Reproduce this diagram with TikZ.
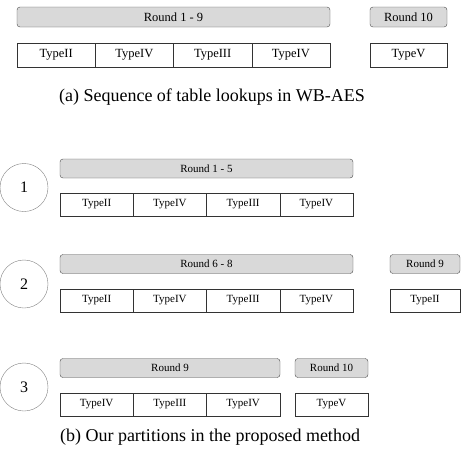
\documentclass[tikz,border=0pt]{standalone}
\usepackage{fontspec}
\setmainfont{Liberation Serif}
\tikzset{
  rnd/.style={draw=black!70, fill=black!15, rounded corners=3pt, minimum height=19pt, inner sep=0pt},
  tbl/.style={draw=black!80, fill=white, minimum height=23pt, inner sep=0pt},
  part/.style={draw=black!50, circle, minimum size=48pt, inner sep=0pt, font=\fontsize{16}{18}\selectfont},
}
\begin{document}
\begin{tikzpicture}[x=1pt,y=-1pt]
    \useasboundingbox (0,0) rectangle (462,461);
    % (a)
    \begin{scope}[font=\fontsize{12.5}{14}\selectfont]
    \node[rnd, minimum width=313pt, minimum height=20pt] (a1) at (173.5,17) {Round 1 - 9};
    \node[rnd, minimum width=77pt, minimum height=20pt] (a2) at (408.5,17) {Round 10};
    \foreach \t [count=\i] in {TypeII,TypeIV,TypeIII,TypeIV}
        \node[tbl, minimum width=78.25pt, minimum height=24pt] (at\i) at (17+78.25*\i-39.1,55) {\t};
    \node[tbl, minimum width=77pt, minimum height=24pt] (at5) at (408.5,55) {TypeV};
    \end{scope}
    \node (capa) at (212,97) {\fontsize{18}{20}\selectfont (a) Sequence of table lookups in WB-AES};
    % (b)
    \begin{scope}[font=\fontsize{11}{13}\selectfont]
    \node[part] (p1) at (24,187.5) {1};
    \node[rnd, minimum width=293pt] (b1) at (206.5,168.5) {Round 1 - 5};
    \foreach \t [count=\i] in {TypeII,TypeIV,TypeIII,TypeIV}
        \node[tbl, minimum width=73.25pt] (bt\i) at (60+73.25*\i-36.6,204.5) {\t};

    \node[part] (p2) at (24,284) {2};
    \node[rnd, minimum width=293pt] (c1) at (206.5,264) {Round 6 - 8};
    \node[rnd, minimum width=70pt] (c2) at (425,264) {Round 9};
    \foreach \t [count=\i] in {TypeII,TypeIV,TypeIII,TypeIV}
        \node[tbl, minimum width=73.25pt] (ct\i) at (60+73.25*\i-36.6,300.5) {\t};
    \node[tbl, minimum width=70pt] (ct5) at (425,300.5) {TypeII};

    \node[part] (p3) at (24,387) {3};
    \node[rnd, minimum width=220pt] (d1) at (170,368) {Round 9};
    \node[rnd, minimum width=73pt] (d2) at (331.5,368) {Round 10};
    \foreach \t [count=\i] in {TypeIV,TypeIII,TypeIV}
        \node[tbl, minimum width=73.25pt] (dt\i) at (60+73.25*\i-36.6,404.5) {\t};
    \node[tbl, minimum width=73pt] (dt4) at (331.5,404.5) {TypeV};
    \end{scope}
    \node (capb) at (210,437) {\fontsize{18}{20}\selectfont (b) Our partitions in the proposed method};
\end{tikzpicture}
\end{document}
